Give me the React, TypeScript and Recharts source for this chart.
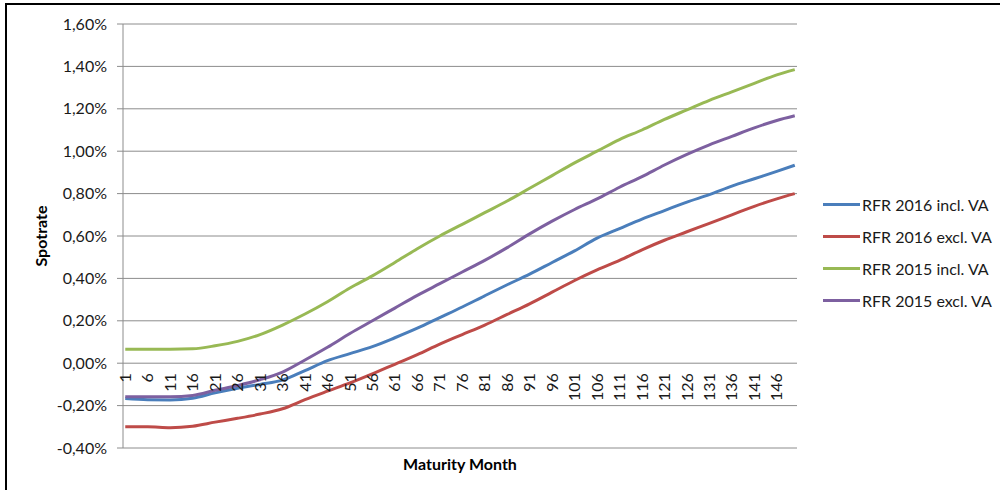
import { LineChart, Line, XAxis, YAxis, CartesianGrid } from 'recharts';

// maturity months sampled every 5 months (plus the final month)
const MONTHS = [1, 6, 11, 16, 21, 26, 31, 36, 41, 46, 51, 56, 61, 66, 71, 76, 81, 86, 91, 96, 101, 106, 111, 116, 121, 126, 131, 136, 141, 146, 150];

// spot rates in percent
const RFR_2016_INCL_VA = [-0.167, -0.172, -0.173, -0.165, -0.14, -0.118, -0.1, -0.08, -0.035, 0.012, 0.045, 0.078, 0.12, 0.165, 0.215, 0.265, 0.318, 0.37, 0.42, 0.475, 0.53, 0.59, 0.635, 0.68, 0.72, 0.76, 0.795, 0.835, 0.87, 0.905, 0.934];
const RFR_2016_EXCL_VA = [-0.3, -0.3, -0.304, -0.297, -0.278, -0.26, -0.24, -0.215, -0.172, -0.132, -0.093, -0.05, -0.005, 0.04, 0.09, 0.135, 0.18, 0.23, 0.28, 0.335, 0.39, 0.44, 0.485, 0.535, 0.58, 0.62, 0.66, 0.7, 0.74, 0.775, 0.8];
const RFR_2015_INCL_VA = [0.066, 0.066, 0.066, 0.068, 0.082, 0.103, 0.135, 0.18, 0.232, 0.29, 0.355, 0.412, 0.475, 0.54, 0.6, 0.655, 0.71, 0.765, 0.825, 0.885, 0.945, 1.0, 1.055, 1.1, 1.15, 1.195, 1.24, 1.28, 1.32, 1.36, 1.385];
const RFR_2015_EXCL_VA = [-0.158, -0.158, -0.158, -0.152, -0.128, -0.105, -0.078, -0.042, 0.015, 0.075, 0.14, 0.2, 0.26, 0.32, 0.375, 0.43, 0.485, 0.545, 0.61, 0.67, 0.725, 0.775, 0.83, 0.88, 0.935, 0.985, 1.03, 1.07, 1.11, 1.145, 1.167];

const X_TICKS = [1, 6, 11, 16, 21, 26, 31, 36, 41, 46, 51, 56, 61, 66, 71, 76, 81, 86, 91, 96, 101, 106, 111, 116, 121, 126, 131, 136, 141, 146];
const Y_TICKS = [-0.4, -0.2, 0, 0.2, 0.4, 0.6, 0.8, 1.0, 1.2, 1.4, 1.6];

const SERIES = [
  { key: 'incl2016', name: 'RFR 2016 incl. VA', color: '#4A7EBB', values: RFR_2016_INCL_VA },
  { key: 'excl2016', name: 'RFR 2016 excl. VA', color: '#BE4B48', values: RFR_2016_EXCL_VA },
  { key: 'incl2015', name: 'RFR 2015 incl. VA', color: '#98B954', values: RFR_2015_INCL_VA },
  { key: 'excl2015', name: 'RFR 2015 excl. VA', color: '#7D60A0', values: RFR_2015_EXCL_VA },
];

const data = MONTHS.map((month, i) => {
  const row: Record<string, number> = { month };
  SERIES.forEach((s) => { row[s.key] = s.values[i]; });
  return row;
});

const WIDTH = 1000;
const HEIGHT = 490;
const X_AXIS_H = 30;
const MARGIN = { top: 24, right: 203, bottom: 12, left: 0 };
const Y_AXIS_W = 123;
const Y_MIN = -0.4;
const Y_MAX = 1.6;
const PLOT_H = HEIGHT - MARGIN.top - MARGIN.bottom - X_AXIS_H;
// the category labels hang below the 0% line
const ZERO_Y = MARGIN.top + PLOT_H * (Y_MAX / (Y_MAX - Y_MIN));

const FONT = 'Lato, "Open Sans", sans-serif';
const FS = 16;

const fmtPct = (v: number) => v.toFixed(2).replace('.', ',') + '%';

const renderMonthTick = (props: any) => {
  const { x, payload } = props;
  return (
    <text
      key={`m-${payload.value}`}
      transform={`translate(${x}, ${ZERO_Y + 10}) rotate(-90)`}
      textAnchor="end"
      dy="0.35em"
      fontSize={FS}
      fontFamily={FONT}
      fill="#1a1a1a"
    >
      {payload.value}
    </text>
  );
};

export default function App() {
  return (
    <div style={{ position: 'absolute', left: 0, top: 0, width: WIDTH, height: HEIGHT, background: '#fff', overflow: 'hidden', fontFamily: FONT }}>
      <div style={{ position: 'absolute', left: 5, top: 3, width: 1100, height: 600, borderLeft: '2px solid #000', borderTop: '2px solid #000' }} />
      <LineChart width={WIDTH} height={HEIGHT} data={data} margin={MARGIN} style={{ position: 'absolute', left: 0, top: 0 }}>
        <CartesianGrid horizontal vertical={false} stroke="#8c8c8c" />
        <XAxis
          dataKey="month"
          type="number"
          domain={[0.5, 150.5]}
          ticks={X_TICKS}
          interval={0}
          height={X_AXIS_H}
          axisLine={false}
          tickLine={false}
          tick={renderMonthTick}
        />
        <YAxis
          width={Y_AXIS_W}
          domain={[Y_MIN, Y_MAX]}
          ticks={Y_TICKS}
          interval={0}
          tickFormatter={fmtPct}
          tickSize={6}
          tickMargin={10}
          stroke="#8c8c8c"
          tick={{ fill: '#1a1a1a', fontSize: FS, fontFamily: FONT }}
        />
        {SERIES.map((s) => (
          <Line
            key={s.key}
            type="monotone"
            dataKey={s.key}
            name={s.name}
            stroke={s.color}
            strokeWidth={3}
            dot={false}
            isAnimationActive={false}
          />
        ))}
      </LineChart>
      <div style={{ position: 'absolute', left: 40, top: 236, transform: 'translate(-50%, -50%) rotate(-90deg)', fontWeight: 700, fontSize: FS, color: '#000', whiteSpace: 'nowrap' }}>
        Spotrate
      </div>
      <div style={{ position: 'absolute', left: 460, top: 463, transform: 'translate(-50%, -50%)', fontWeight: 700, fontSize: FS, color: '#000', whiteSpace: 'nowrap' }}>
        Maturity Month
      </div>
      <div style={{ position: 'absolute', left: 823, top: 188 }}>
        {SERIES.map((s) => (
          <div key={s.key} style={{ display: 'flex', alignItems: 'center', height: 32 }}>
            <div style={{ width: 37, height: 3, background: s.color, marginRight: 2 }} />
            <span style={{ fontSize: FS, color: '#1a1a1a', whiteSpace: 'nowrap' }}>{s.name}</span>
          </div>
        ))}
      </div>
    </div>
  );
}
